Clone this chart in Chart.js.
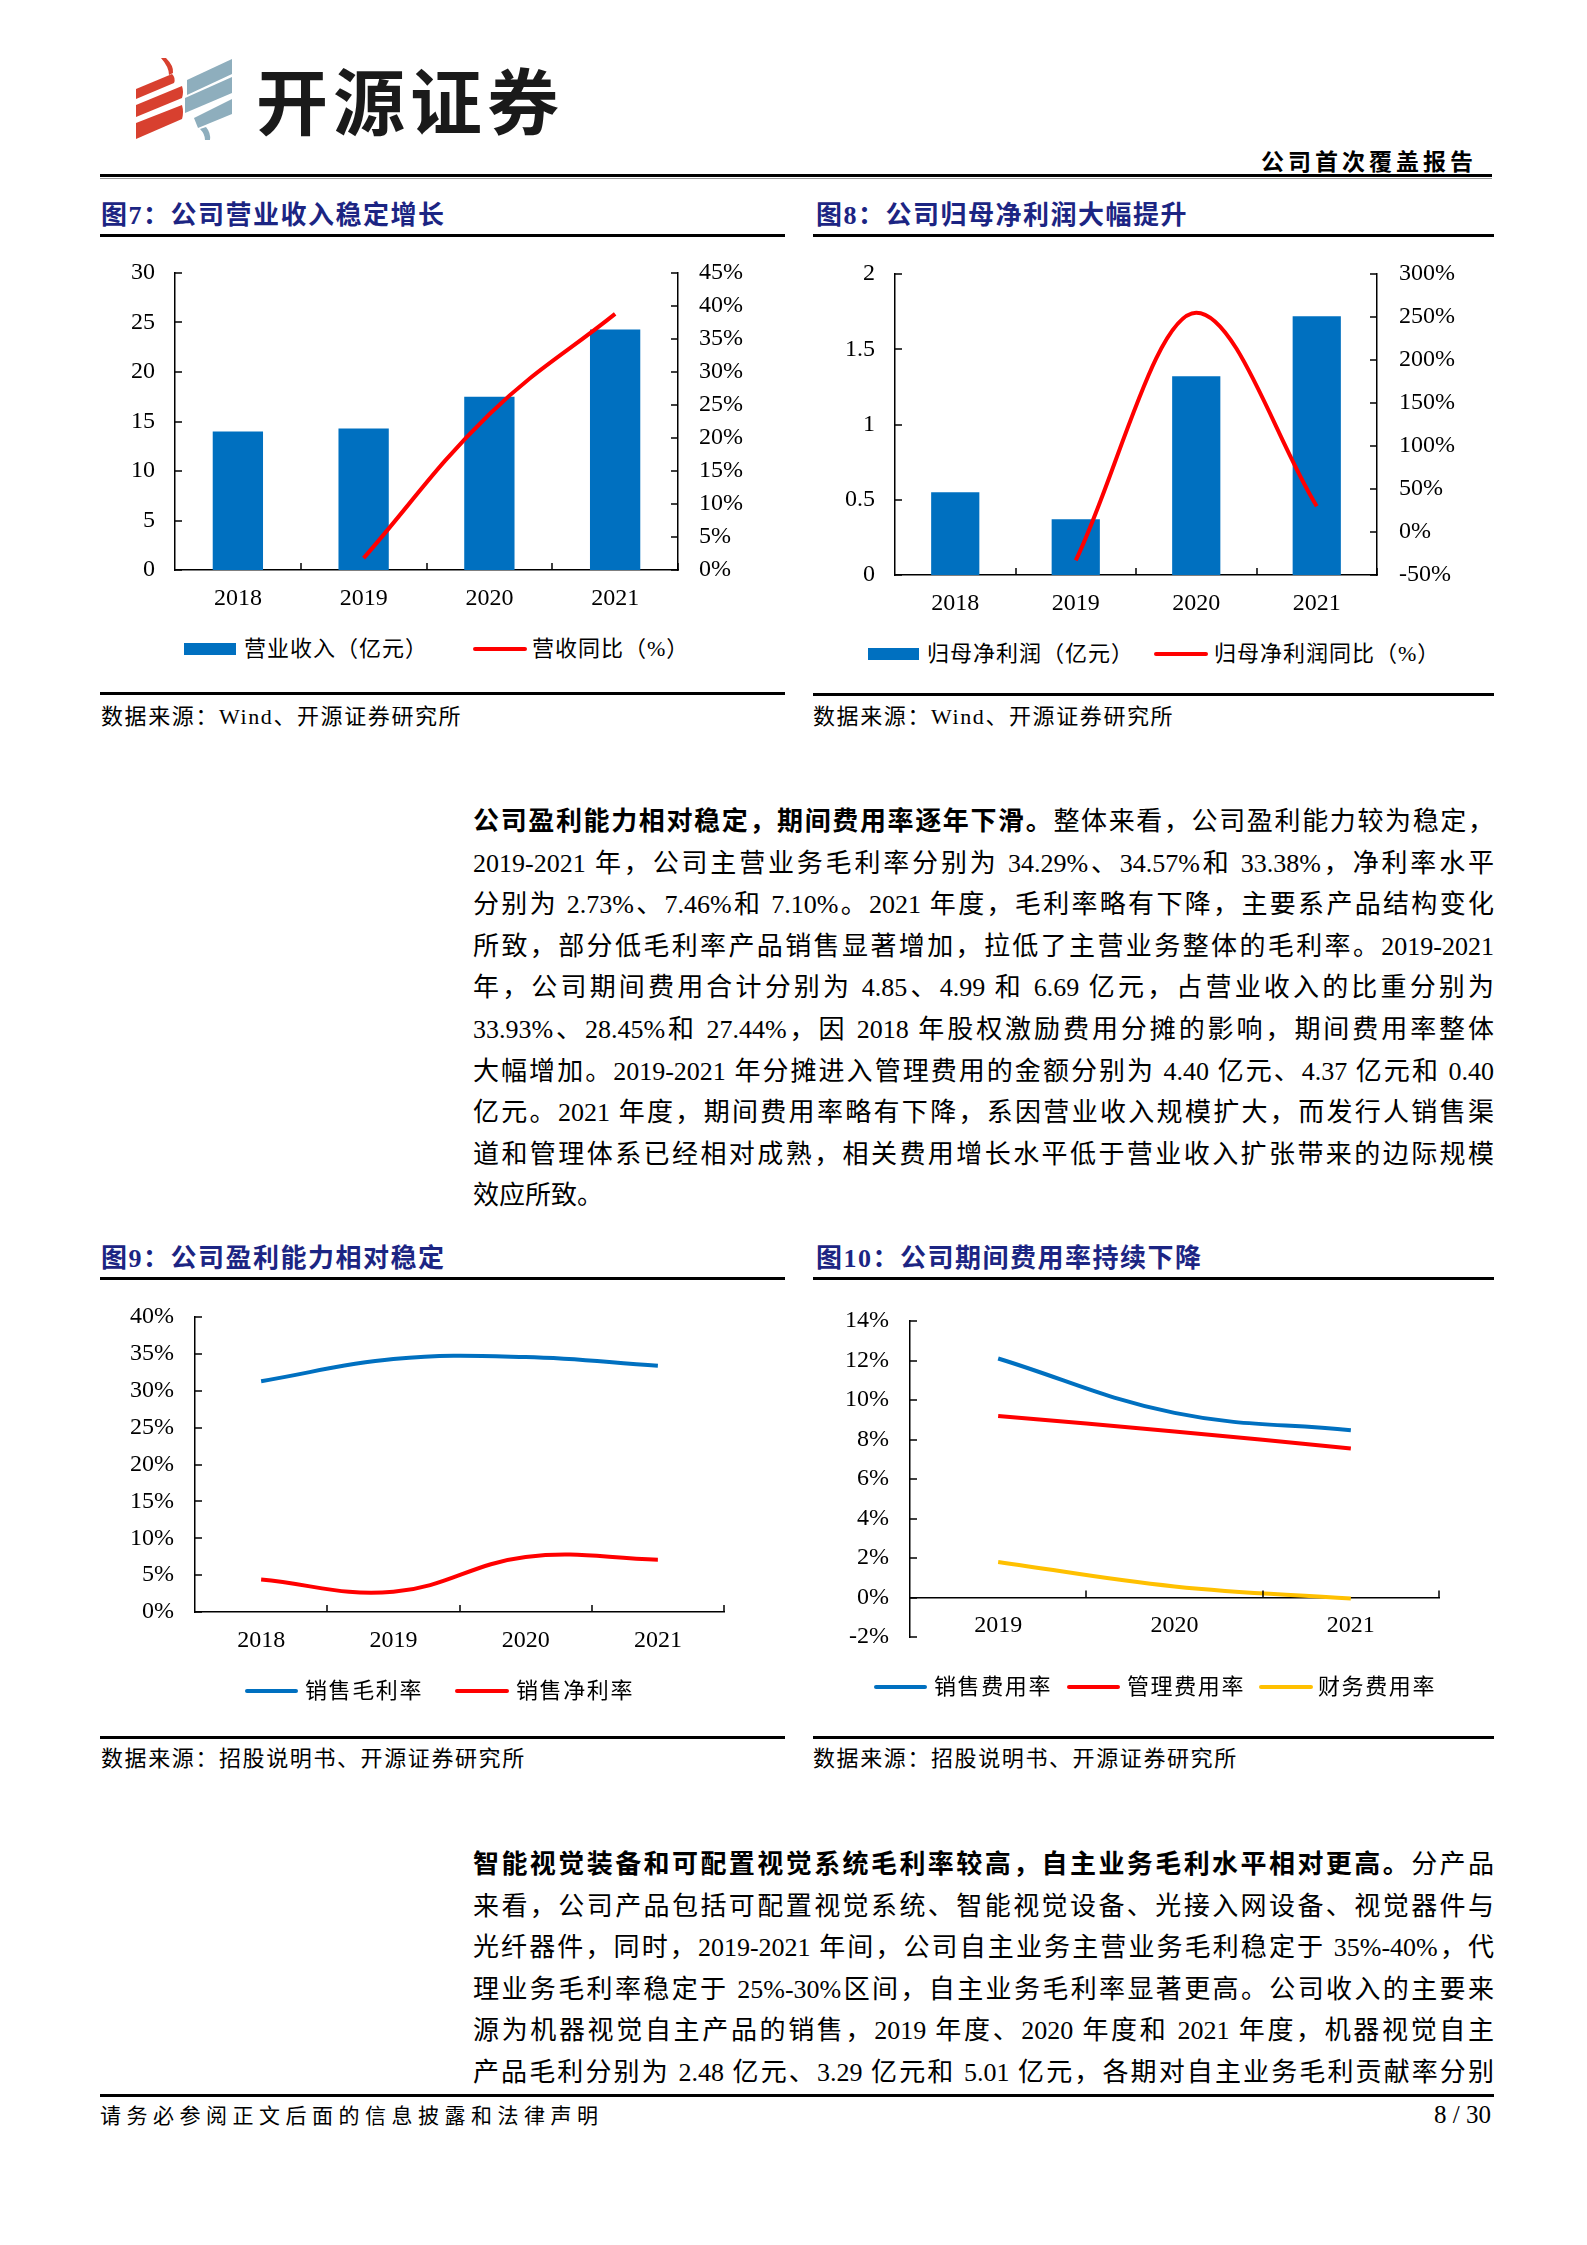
<!DOCTYPE html>
<html><head><meta charset="utf-8">
<script src="https://cdn.jsdelivr.net/npm/chart.js@4.4.1/dist/chart.umd.min.js"></script>
<style>
html,body{margin:0;padding:0;background:#fff;}
body{position:relative;width:1587px;height:2245px;overflow:hidden;font-family:"Liberation Serif","Noto Sans CJK SC",serif;color:#000;}
.rule{position:absolute;background:#000;}
.title{position:absolute;font-weight:700;font-size:26px;letter-spacing:1.5px;color:#1c2583;line-height:30px;white-space:nowrap;}
.src{position:absolute;font-size:22px;line-height:28px;white-space:nowrap;letter-spacing:1.6px;}
.leg{position:absolute;font-size:22px;line-height:30px;white-space:nowrap;letter-spacing:1px;}
.mk{position:absolute;}
.ln{position:absolute;left:473px;width:1021px;height:42px;line-height:42px;font-size:26px;text-align:justify;text-align-last:justify;}
.ln.last{text-align-last:left;}
canvas{position:absolute;}
</style></head><body>

<!-- header -->
<svg style="position:absolute;left:136px;top:58px" width="97" height="83" viewBox="0 0 97 83">
  <g fill="#d8402f">
    <path d="M25 0 L30 0 Q38 8 37 15 L33 17 Q33 9 25 0 Z"/>
    <path d="M0 31 L36 16 Q40 20 38 25 L0 41 Z"/>
    <path d="M0 47 L46 28 Q48 34 46 40 L0 59 Z"/>
    <path d="M0 65 L46 47 Q48 54 46 61 L0 81 Z"/>
  </g>
  <g fill="#8eaebd">
    <path d="M51 22 L96 1 L96 16 L51 37 Z"/>
    <path d="M49 40 L96 19 L96 35 L49 55 Z"/>
    <path d="M58 60 L96 41 L96 56 L62 70 Z"/>
    <path d="M64 71 L70 69 Q75 75 74 82 L69 82 Q69 76 64 71 Z"/>
  </g>
</svg>
<div style="position:absolute;left:256px;top:55px;font-family:'Noto Sans CJK SC';font-weight:700;font-size:72px;line-height:86px;letter-spacing:5px;color:#1a1a1a;white-space:nowrap;">开源证券</div>
<div style="position:absolute;right:110px;top:145px;font-family:'Noto Sans CJK SC';font-weight:700;font-size:23px;line-height:30px;letter-spacing:4px;white-space:nowrap;">公司首次覆盖报告</div>
<div class="rule" style="left:100px;top:174px;width:1392px;height:3px;"></div>
<div class="rule" style="left:100px;top:178px;width:1392px;height:1px;background:#999;"></div>

<!-- figure titles & rules -->
<div class="title" style="left:101px;top:201px;">图7：公司营业收入稳定增长</div>
<div class="title" style="left:816px;top:201px;">图8：公司归母净利润大幅提升</div>
<div class="rule" style="left:100px;top:234px;width:685px;height:3px;"></div>
<div class="rule" style="left:813px;top:234px;width:681px;height:3px;"></div>

<canvas id="c7" width="700" height="392" style="left:90px;top:233px;"></canvas>
<canvas id="c8" width="690" height="391" style="left:810px;top:234px;"></canvas>
<div id="leg7"></div><div id="leg8"></div>

<div class="rule" style="left:100px;top:692px;width:685px;height:3px;"></div>
<div class="rule" style="left:813px;top:693px;width:681px;height:3px;"></div>
<div class="src" style="left:101px;top:703px;">数据来源：Wind、开源证券研究所</div>
<div class="src" style="left:813px;top:703px;">数据来源：Wind、开源证券研究所</div>

<!-- paragraph 1 -->
<div class="ln" style="top:801px;"><b>公司盈利能力相对稳定，期间费用率逐年下滑。</b>整体来看，公司盈利能力较为稳定，</div>
<div class="ln" style="top:842.6px;">2019-2021 年，公司主营业务毛利率分别为 34.29%、34.57%和 33.38%，净利率水平</div>
<div class="ln" style="top:884.2px;">分别为 2.73%、7.46%和 7.10%。2021 年度，毛利率略有下降，主要系产品结构变化</div>
<div class="ln" style="top:925.8px;">所致，部分低毛利率产品销售显著增加，拉低了主营业务整体的毛利率。2019-2021</div>
<div class="ln" style="top:967.4px;">年，公司期间费用合计分别为 4.85、4.99 和 6.69 亿元，占营业收入的比重分别为</div>
<div class="ln" style="top:1009px;">33.93%、28.45%和 27.44%，因 2018 年股权激励费用分摊的影响，期间费用率整体</div>
<div class="ln" style="top:1050.6px;">大幅增加。2019-2021 年分摊进入管理费用的金额分别为 4.40 亿元、4.37 亿元和 0.40</div>
<div class="ln" style="top:1092.2px;">亿元。2021 年度，期间费用率略有下降，系因营业收入规模扩大，而发行人销售渠</div>
<div class="ln" style="top:1133.8px;">道和管理体系已经相对成熟，相关费用增长水平低于营业收入扩张带来的边际规模</div>
<div class="ln last" style="top:1175.4px;">效应所致。</div>

<div class="title" style="left:101px;top:1244px;">图9：公司盈利能力相对稳定</div>
<div class="title" style="left:816px;top:1244px;">图10：公司期间费用率持续下降</div>
<div class="rule" style="left:100px;top:1277px;width:685px;height:3px;"></div>
<div class="rule" style="left:813px;top:1277px;width:681px;height:3px;"></div>

<canvas id="c9" width="690" height="388" style="left:90px;top:1277px;"></canvas>
<canvas id="c10" width="690" height="396" style="left:810px;top:1281px;"></canvas>
<div id="leg9"></div><div id="leg10"></div>

<div class="rule" style="left:100px;top:1736px;width:685px;height:3px;"></div>
<div class="rule" style="left:813px;top:1736px;width:681px;height:3px;"></div>
<div class="src" style="left:101px;top:1745px;">数据来源：招股说明书、开源证券研究所</div>
<div class="src" style="left:813px;top:1745px;">数据来源：招股说明书、开源证券研究所</div>

<!-- paragraph 2 -->
<div class="ln" style="top:1844px;"><b>智能视觉装备和可配置视觉系统毛利率较高，自主业务毛利水平相对更高。</b>分产品</div>
<div class="ln" style="top:1885.6px;">来看，公司产品包括可配置视觉系统、智能视觉设备、光接入网设备、视觉器件与</div>
<div class="ln" style="top:1927.2px;">光纤器件，同时，2019-2021 年间，公司自主业务主营业务毛利稳定于 35%-40%，代</div>
<div class="ln" style="top:1968.8px;">理业务毛利率稳定于 25%-30%区间，自主业务毛利率显著更高。公司收入的主要来</div>
<div class="ln" style="top:2010.4px;">源为机器视觉自主产品的销售，2019 年度、2020 年度和 2021 年度，机器视觉自主</div>
<div class="ln" style="top:2052px;">产品毛利分别为 2.48 亿元、3.29 亿元和 5.01 亿元，各期对自主业务毛利贡献率分别</div>

<!-- footer -->
<div class="rule" style="left:100px;top:2094px;width:1394px;height:3px;"></div>
<div style="position:absolute;left:100px;top:2101px;font-size:21px;line-height:30px;letter-spacing:5.5px;white-space:nowrap;">请务必参阅正文后面的信息披露和法律声明</div>
<div style="position:absolute;right:96px;top:2100px;font-size:25px;line-height:30px;white-space:nowrap;">8 / 30</div>

<script>
// ---------------- data ----------------
const years4 = ['2018', '2019', '2020', '2021'];
const years3 = ['2019', '2020', '2021'];

const revenueLabel = '营业收入（亿元）';
const revenueYoYLabel = '营收同比（%）';
const revenue = [14.0, 14.3, 17.5, 24.3];
const revenueYoY = [null, 1.8, 23.6, 38.8];

const profitLabel = '归母净利润（亿元）';
const profitYoYLabel = '归母净利润同比（%）';
const profit = [0.55, 0.37, 1.32, 1.72];
const profitYoY = [null, -33, 255, 30];

const grossLabel = '销售毛利率';
const netLabel = '销售净利率';
const grossMargin = [31.3, 34.29, 34.57, 33.38];
const netMargin = [4.4, 2.73, 7.46, 7.10];

const sellLabel = '销售费用率';
const adminLabel = '管理费用率';
const finLabel = '财务费用率';
const sellingRate = [12.1, 9.35, 8.47];
const adminRate = [9.19, 8.41, 7.54];
const financeRate = [1.8, 0.56, -0.05];

// ---------------- styling helpers ----------------
const BLUE = '#0070C0', RED = '#FF0000', YELLOW = '#FFC000';
const tickFont = { family: '"Liberation Serif","Noto Sans CJK SC",serif', size: 24 };

const innerTicks = {
  id: 'innerTicks',
  afterDraw(chart, args, opts) {
    const ctx = chart.ctx, len = opts.len || 7;
    ctx.save();
    ctx.strokeStyle = '#000';
    ctx.lineWidth = 1.5;
    for (const id of Object.keys(chart.scales)) {
      const s = chart.scales[id];
      if (s.axis === 'y') {
        const right = s.position === 'right';
        const x = right ? chart.chartArea.right : chart.chartArea.left;
        s.ticks.forEach(t => {
          const y = Math.round(s.getPixelForValue(t.value));
          ctx.beginPath(); ctx.moveTo(x, y); ctx.lineTo(right ? x - len : x + len, y); ctx.stroke();
        });
      } else {
        const n = s.ticks.length, w = (s.right - s.left) / n;
        const y0 = (opts.xAt !== undefined) ? chart.scales.y.getPixelForValue(opts.xAt) : chart.chartArea.bottom;
        for (let i = 1; i <= n; i++) {
          const x = Math.round(s.left + i * w);
          ctx.beginPath(); ctx.moveTo(x, y0); ctx.lineTo(x, y0 - len); ctx.stroke();
        }
      }
    }
    ctx.restore();
  }
};

function yScale(pos, min, max, step, pct, width, pad) {
  return {
    position: pos, min: min, max: max,
    ticks: { stepSize: step, color: '#000', font: tickFont, padding: pad,
             callback: pct ? (v => v + '%') : (v => String(v)) },
    grid: { display: false, drawTicks: false },
    border: { display: true, color: '#000', width: 1.5 },
    afterFit: s => { s.width = width; }
  };
}
function xScale(h, pad, extra) {
  return Object.assign({
    type: 'category', offset: true,
    ticks: { color: '#000', font: tickFont, padding: pad, maxRotation: 0, autoSkip: false },
    grid: { display: false, drawTicks: false, offset: true },
    border: { display: true, color: '#000', width: 1.5 },
    afterFit: s => { s.height = h; }
  }, extra || {});
}
function baseOpts(padding, scales, tickOpts) {
  return {
    responsive: false, animation: false,
    layout: { padding: padding },
    plugins: { legend: { display: false }, tooltip: { enabled: false }, innerTicks: tickOpts || { len: 7 } },
    scales: scales
  };
}
function lineDs(label, data, color, axis, extra) {
  return Object.assign({ type: 'line', label: label, data: data, yAxisID: axis || 'y', borderColor: color,
    backgroundColor: color, borderWidth: 4, pointRadius: 0, tension: 0.4, spanGaps: true, fill: false, order: 0 }, extra || {});
}
function barDs(label, data, color) {
  return { type: 'bar', label: label, data: data, yAxisID: 'y', backgroundColor: color,
    barPercentage: 0.4, categoryPercentage: 1, order: 1 };
}

// HTML legend: items built from dataset label/colour
function legend(hostId, chart, cy, places) {
  const host = document.getElementById(hostId);
  const dsList = chart.data.datasets.slice().sort((a, b) => b.order - a.order);
  dsList.forEach((ds, i) => {
    const p = places[i];
    const mk = document.createElement('div');
    mk.className = 'mk';
    const h = ds.type === 'bar' ? 12 : 4.5;
    mk.style.cssText = `left:${p[0]}px;top:${cy - h / 2}px;width:${p[1]}px;height:${h}px;background:${ds.borderColor || ds.backgroundColor};` + (ds.type === 'line' ? 'border-radius:2px;' : '');
    host.appendChild(mk);
    const tx = document.createElement('div');
    tx.className = 'leg';
    tx.style.left = p[2] + 'px';
    tx.style.top = (cy - 15) + 'px';
    if (p[3]) tx.style.letterSpacing = p[3] + 'px';
    tx.textContent = ds.label;
    host.appendChild(tx);
  });
}

// ---------------- Figure 7 ----------------
const ch7 = new Chart(document.getElementById('c7'), {
  data: { labels: years4, datasets: [
    lineDs(revenueYoYLabel, revenueYoY, RED, 'y1'),
    barDs(revenueLabel, revenue, BLUE)
  ] },
  options: baseOpts({ top: 40, left: 0, right: 0, bottom: 0 }, {
    x: xScale(55, 14),
    y: yScale('left', 0, 30, 5, false, 85, 20),
    y1: yScale('right', 0, 45, 5, true, 112, 21)
  }),
  plugins: [innerTicks]
});
legend('leg7', ch7, 649, [[184, 52, 244], [473, 54, 532]]);

// ---------------- Figure 8 ----------------
const ch8 = new Chart(document.getElementById('c8'), {
  data: { labels: years4, datasets: [
    lineDs(profitYoYLabel, profitYoY, RED, 'y1', { cubicInterpolationMode: 'monotone' }),
    barDs(profitLabel, profit, BLUE)
  ] },
  options: baseOpts({ top: 40, left: 0, right: 0, bottom: 0 }, {
    x: xScale(50, 14),
    y: yScale('left', 0, 2, 0.5, false, 85, 20),
    y1: yScale('right', -50, 300, 50, true, 123, 22)
  }),
  plugins: [innerTicks]
});
legend('leg8', ch8, 654, [[868, 51, 927], [1154, 54, 1214]]);

// ---------------- Figure 9 ----------------
const ch9 = new Chart(document.getElementById('c9'), {
  data: { labels: years4, datasets: [
    lineDs(grossLabel, grossMargin, BLUE),
    lineDs(netLabel, netMargin, RED)
  ] },
  options: baseOpts({ top: 40, left: 0, right: 56, bottom: 0 }, {
    x: xScale(53, 14),
    y: yScale('left', 0, 40, 5, true, 105, 21)
  }),
  plugins: [innerTicks]
});
legend('leg9', ch9, 1691, [[245, 53, 305, 1.6], [455, 54, 516, 1.6]]);

// ---------------- Figure 10 ----------------
const ch10 = new Chart(document.getElementById('c10'), {
  data: { labels: years3, datasets: [
    lineDs(sellLabel, sellingRate, BLUE),
    lineDs(adminLabel, adminRate, RED),
    lineDs(finLabel, financeRate, YELLOW)
  ] },
  options: baseOpts({ top: 40, left: 0, right: 61, bottom: 40 }, {
    x: xScale(0, 14, { position: { y: 0 } }),
    y: yScale('left', -2, 14, 2, true, 100, 21)
  }, { len: 7, xAt: 0 }),
  plugins: [innerTicks]
});
legend('leg10', ch10, 1687, [[874, 53, 934, 1.6], [1067, 53, 1127, 1.6], [1259, 54, 1318, 1.6]]);
</script>
</body></html>
